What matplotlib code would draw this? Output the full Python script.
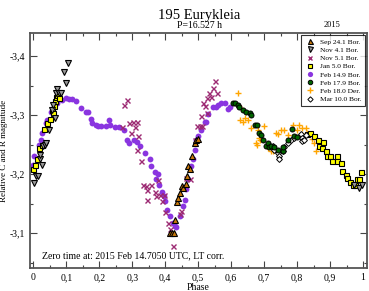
import numpy as np
import matplotlib
matplotlib.use('Agg')
import matplotlib.pyplot as plt
from matplotlib.ticker import MultipleLocator, FuncFormatter

plt.rcParams['font.family'] = ['Liberation Serif', 'DejaVu Serif']

# phase, relative magnitude for each night
sep241 = [(0.415, -3.100), (0.422, -3.100), (0.428, -3.101), (0.430, -3.123), (0.437, -3.152),
          (0.440, -3.160), (0.445, -3.168), (0.450, -3.180), (0.455, -3.176), (0.462, -3.183),
          (0.465, -3.196), (0.470, -3.213), (0.475, -3.209), (0.480, -3.230), (0.490, -3.253),
          (0.494, -3.258), (0.498, -3.260)]
nov41 = [(0.003, -3.185), (0.008, -3.196), (0.013, -3.196), (0.020, -3.225), (0.020, -3.233),
         (0.026, -3.216), (0.030, -3.247), (0.036, -3.250), (0.039, -3.253), (0.048, -3.275),
         (0.058, -3.309), (0.060, -3.317), (0.066, -3.295), (0.068, -3.337), (0.073, -3.344),
         (0.078, -3.337), (0.083, -3.337), (0.100, -3.355), (0.093, -3.373), (0.106, -3.388),
         (0.973, -3.181), (0.987, -3.177), (0.997, -3.182)]
nov51 = [(0.268, -3.279), (0.274, -3.317), (0.283, -3.325), (0.291, -3.287), (0.297, -3.270),
         (0.301, -3.289), (0.307, -3.279), (0.313, -3.289), (0.319, -3.264), (0.313, -3.241),
         (0.328, -3.222), (0.334, -3.182), (0.343, -3.180), (0.346, -3.173), (0.358, -3.181),
         (0.346, -3.157), (0.370, -3.169), (0.373, -3.163), (0.377, -3.190), (0.385, -3.164),
         (0.389, -3.154), (0.395, -3.164), (0.400, -3.136), (0.410, -3.118), (0.415, -3.107),
         (0.425, -3.078), (0.445, -3.132), (0.448, -3.137), (0.464, -3.194), (0.475, -3.191),
         (0.491, -3.258), (0.497, -3.281), (0.505, -3.281), (0.509, -3.299), (0.512, -3.282),
         (0.515, -3.321), (0.520, -3.316), (0.526, -3.304), (0.527, -3.329), (0.532, -3.338),
         (0.539, -3.331), (0.545, -3.346), (0.550, -3.357), (0.557, -3.338)]
jan50 = [(0.000, -3.208), (0.006, -3.216), (0.010, -3.225), (0.018, -3.244), (0.026, -3.250),
         (0.033, -3.276), (0.043, -3.287), (0.050, -3.293), (0.056, -3.309), (0.060, -3.304),
         (0.063, -3.315), (0.066, -3.323), (0.068, -3.331), (0.073, -3.334), (0.078, -3.329),
         (0.831, -3.268), (0.839, -3.270), (0.851, -3.264), (0.864, -3.258), (0.867, -3.247),
         (0.877, -3.244), (0.880, -3.254), (0.887, -3.240), (0.892, -3.231), (0.900, -3.231),
         (0.907, -3.222), (0.920, -3.230), (0.922, -3.222), (0.932, -3.218), (0.937, -3.205),
         (0.947, -3.199), (0.952, -3.194), (0.960, -3.186), (0.970, -3.182), (0.977, -3.181),
         (0.982, -3.192), (0.987, -3.192), (0.994, -3.203)]
feb149 = [(0.000, -3.216), (0.003, -3.230), (0.018, -3.250), (0.024, -3.257), (0.027, -3.270),
          (0.038, -3.287), (0.042, -3.292), (0.053, -3.306), (0.063, -3.314), (0.072, -3.321),
          (0.087, -3.326), (0.098, -3.329), (0.108, -3.327), (0.117, -3.327), (0.129, -3.323),
          (0.144, -3.312), (0.159, -3.306), (0.166, -3.306), (0.174, -3.294), (0.178, -3.287),
          (0.189, -3.284), (0.196, -3.282), (0.204, -3.281), (0.219, -3.282), (0.229, -3.291),
          (0.234, -3.284), (0.249, -3.279), (0.259, -3.279), (0.274, -3.275), (0.283, -3.258),
          (0.289, -3.253), (0.304, -3.258), (0.313, -3.255), (0.324, -3.247), (0.339, -3.236),
          (0.355, -3.225), (0.358, -3.213), (0.370, -3.203), (0.373, -3.191), (0.378, -3.201),
          (0.380, -3.182), (0.389, -3.169), (0.395, -3.163), (0.400, -3.154), (0.404, -3.140),
          (0.415, -3.129), (0.425, -3.118), (0.430, -3.112), (0.434, -3.110), (0.445, -3.129),
          (0.455, -3.146), (0.460, -3.157), (0.464, -3.174), (0.470, -3.191), (0.479, -3.213),
          (0.485, -3.225), (0.491, -3.241), (0.494, -3.258), (0.500, -3.264), (0.509, -3.275),
          (0.520, -3.289), (0.524, -3.289), (0.530, -3.301), (0.545, -3.314), (0.554, -3.314),
          (0.560, -3.317), (0.569, -3.321), (0.580, -3.321), (0.590, -3.311), (0.598, -3.314)]
feb179 = [(0.605, -3.321), (0.611, -3.321), (0.620, -3.317), (0.625, -3.314), (0.636, -3.309),
          (0.646, -3.306), (0.656, -3.303), (0.661, -3.300), (0.671, -3.284), (0.679, -3.284),
          (0.685, -3.270), (0.691, -3.267), (0.696, -3.257), (0.706, -3.248), (0.711, -3.253),
          (0.716, -3.246), (0.721, -3.247), (0.729, -3.246), (0.741, -3.241), (0.756, -3.239),
          (0.756, -3.246), (0.771, -3.258), (0.786, -3.276), (0.791, -3.265), (0.801, -3.263)]
feb180 = [(0.620, -3.337), (0.626, -3.292), (0.630, -3.312), (0.636, -3.289), (0.641, -3.295),
          (0.651, -3.292), (0.661, -3.278), (0.676, -3.253), (0.679, -3.250), (0.681, -3.275),
          (0.685, -3.261), (0.689, -3.258), (0.699, -3.281), (0.711, -3.244), (0.721, -3.239),
          (0.726, -3.240), (0.736, -3.270), (0.741, -3.268), (0.751, -3.275), (0.761, -3.274),
          (0.771, -3.267), (0.789, -3.284), (0.801, -3.275), (0.806, -3.284), (0.816, -3.278),
          (0.826, -3.278), (0.831, -3.270), (0.846, -3.260), (0.851, -3.253), (0.857, -3.240)]
mar100 = [(0.726, -3.247), (0.731, -3.241), (0.741, -3.236), (0.746, -3.230), (0.746, -3.226),
          (0.756, -3.239), (0.761, -3.246), (0.771, -3.253), (0.781, -3.258), (0.791, -3.261),
          (0.811, -3.268), (0.816, -3.261), (0.816, -3.256), (0.821, -3.258), (0.826, -3.267)]

fig = plt.figure(figsize=(3.69, 2.91), dpi=100)
ax = fig.add_axes([30 / 369, 1 - 268 / 291, 337 / 369, 235 / 291])

def pts(d):
    a = np.array(d)
    return a[:, 0], a[:, 1]

ms = 3.6
x, y = pts(feb149)
ax.plot(x, y, 'o', color='#8a35e0', mec='none', ms=ms + 0.6, label='Feb 14.9 Bor.', zorder=2)
x, y = pts(nov51)
ax.plot(x, y, 'x', color='#9c2a72', ms=ms, mew=1.0, label='Nov 5.1 Bor.', zorder=3)
x, y = pts(jan50)
ax.plot(x, y, 's', mfc='#ffff00', mec='black', mew=0.8, ms=ms, label='Jan 5.0 Bor.', zorder=4)
x, y = pts(nov41)
ax.plot(x, y, 'v', mfc='#999999', mec='black', mew=0.8, ms=ms + 0.4, label='Nov 4.1 Bor.', zorder=4)
x, y = pts(sep241)
ax.plot(x, y, '^', mfc='#c8780a', mec='black', mew=0.8, ms=ms + 0.4, label='Sep 24.1 Bor.', zorder=5)
x, y = pts(feb180)
ax.plot(x, y, '+', color='#ffa500', ms=ms + 1, mew=1.0, label='Feb 18.0 Der.', zorder=3)
x, y = pts(mar100)
ax.plot(x, y, 'D', mfc='white', mec='black', mew=0.7, ms=ms - 0.6, label='Mar 10.0 Bor.', zorder=5)
x, y = pts(feb179)
ax.plot(x, y, 'o', mfc='#006400', mec='black', mew=0.7, ms=ms, label='Feb 17.9 Bor.', zorder=6)

ax.set_xlim(-0.01, 1.012)
ax.set_ylim(-3.041, -3.439)

def fmt(v, pos):
    s = '%.1f' % v
    if s.endswith('.0') and abs(v) < 2:
        s = s[:-2]
    return s.replace('.', ',')

ax.xaxis.set_major_locator(MultipleLocator(0.1))
ax.xaxis.set_minor_locator(MultipleLocator(0.05))
ax.yaxis.set_major_locator(MultipleLocator(0.1))
ax.yaxis.set_minor_locator(MultipleLocator(0.05))
ax.xaxis.set_major_formatter(FuncFormatter(fmt))
ax.yaxis.set_major_formatter(FuncFormatter(fmt))
ax.tick_params(which='both', direction='in', top=True, right=True, labelsize=7,
               color='#444444', width=0.8)
ax.tick_params(which='major', length=5)
ax.tick_params(which='minor', length=2.5)
for sp in ax.spines.values():
    sp.set_color('#555555')
    sp.set_linewidth(1.3)

ax.set_xlabel('Phase', fontsize=7, labelpad=1)
ax.set_ylabel('Relative C and R magnitude', fontsize=6.5)
ax.yaxis.set_label_coords(-22 / 337, 0.5)

ax.text(0.025, -3.062, 'Zero time at: 2015 Feb 14.7050 UTC, LT corr.', fontsize=7, va='center')
fig.text(199 / 369, 1 - 15 / 291, '195 Eurykleia', fontsize=10.5, ha='center', va='center')
fig.text(199 / 369, 1 - 25 / 291, 'P=16.527 h', fontsize=7, ha='center', va='center')
fig.text(332 / 369, 1 - 25 / 291, '2015', fontsize=6, ha='center', va='center')

order = ['Sep 24.1 Bor.', 'Nov 4.1 Bor.', 'Nov 5.1 Bor.', 'Jan 5.0 Bor.',
         'Feb 14.9 Bor.', 'Feb 17.9 Bor.', 'Feb 18.0 Der.', 'Mar 10.0 Bor.']
h, l = ax.get_legend_handles_labels()
hd = dict(zip(l, h))
leg = ax.legend([hd[k] for k in order], order, loc='upper right', fontsize=5.3,
                frameon=True, fancybox=False, edgecolor='black', borderpad=0.5,
                labelspacing=0.28, handlelength=1.2, handletextpad=0.8,
                borderaxespad=0.25, markerscale=0.9)
leg.get_frame().set_linewidth(0.8)

fig.savefig('out.png', dpi=100)
